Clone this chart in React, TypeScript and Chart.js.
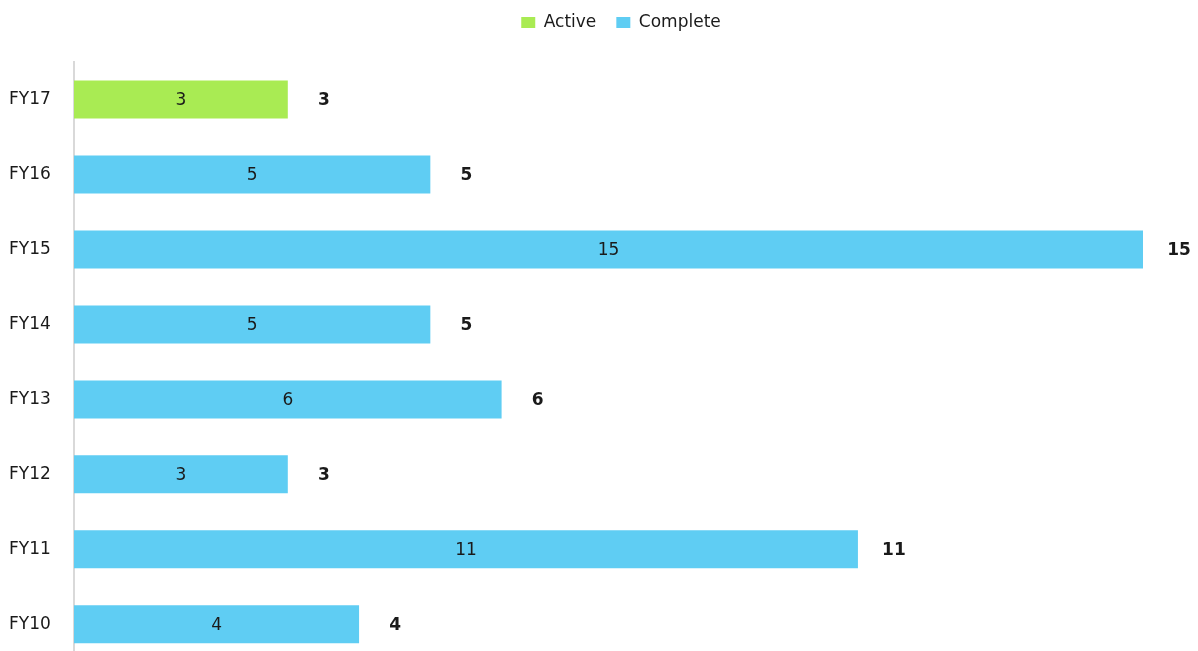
import React, { useEffect, useRef } from "react";
import { Chart, registerables } from "chart.js";

Chart.register(...registerables);

const categories = ["FY17", "FY16", "FY15", "FY14", "FY13", "FY12", "FY11", "FY10"];
const activeValues = [3, null, null, null, null, null, null, null];
const completeValues = [null, 5, 15, 5, 6, 3, 11, 4];
const seriesNames = ["Active", "Complete"];
const xMax = 15;

const FONT = "'DejaVu Sans', Verdana, sans-serif";
const TEXT = "#1a1a1a";

const labelPlugin = {
  id: "barLabels",
  afterDatasetsDraw(chart: any) {
    const ctx = chart.ctx;
    ctx.save();
    ctx.textBaseline = "middle";
    ctx.textAlign = "center";
    ctx.fillStyle = TEXT;
    const ends: Record<number, { x: number; y: number; total: number }> = {};
    chart.data.datasets.forEach((ds: any, di: number) => {
      const meta = chart.getDatasetMeta(di);
      if (meta.hidden) return;
      meta.data.forEach((bar: any, i: number) => {
        const v = ds.data[i];
        if (v == null || v === 0) return;
        ctx.font = `17px ${FONT}`;
        const cx = (bar.x + bar.base) / 2;
        ctx.fillText(String(v), cx, bar.y + 1);
        const prev = ends[i];
        ends[i] = {
          x: prev ? Math.max(prev.x, bar.x) : bar.x,
          y: bar.y,
          total: (prev ? prev.total : 0) + v,
        };
      });
    });
    ctx.font = `bold 17px ${FONT}`;
    Object.values(ends).forEach((e) => {
      ctx.fillText(String(e.total), e.x + 36, e.y + 1);
    });
    ctx.restore();
  },
};

const legendTweak = {
  id: "legendTweak",
  beforeLayout(chart: any) {
    const lg = chart.legend;
    if (lg && !lg.__patched) {
      const orig = lg.fit;
      lg.fit = function (this: any) {
        orig.call(this);
        this.height += 21;
      };
      lg.__patched = true;
    }
  },
  afterLayout(chart: any) {
    const lg = chart.legend;
    if (lg) {
      lg.left += 45;
      lg.right += 45;
    }
  },
};

export default function App() {
  const ref = useRef<HTMLCanvasElement | null>(null);
  useEffect(() => {
    if (!ref.current) return;
    const chart = new Chart(ref.current, {
      type: "bar",
      data: {
        labels: categories,
        datasets: [
          {
            label: seriesNames[0],
            data: activeValues as any,
            backgroundColor: "#a9eb53",
            barPercentage: 0.507,
            categoryPercentage: 1,
          },
          {
            label: seriesNames[1],
            data: completeValues as any,
            backgroundColor: "#5fcdf3",
            barPercentage: 0.507,
            categoryPercentage: 1,
          },
        ],
      },
      options: {
        indexAxis: "y",
        animation: false,
        responsive: true,
        maintainAspectRatio: false,
        layout: { padding: { left: 9, right: 55, top: -6, bottom: 0 } },
        plugins: {
          legend: {
            position: "top",
            labels: {
              boxWidth: 14,
              boxHeight: 11,
              padding: 20,
              color: TEXT,
              font: { family: FONT, size: 17 },
            },
          },
          tooltip: { enabled: false },
        },
        scales: {
          x: {
            stacked: true,
            display: false,
            min: 0,
            max: xMax,
          },
          y: {
            stacked: true,
            afterFit: (s: any) => {
              s.width = 65;
            },
            grid: { display: false },
            border: { display: true, color: "#d9d9d9", width: 2 },
            ticks: {
              crossAlign: "far",
              color: TEXT,
              font: { family: FONT, size: 17 },
            },
          },
        },
      },
      plugins: [legendTweak, labelPlugin],
    });
    return () => chart.destroy();
  }, []);
  return (
    <div style={{ position: "absolute", left: 0, top: 0, width: 1198, height: 651, overflow: "hidden", background: "#fff" }}>
      <div style={{ position: "relative", width: 1198, height: 675 }}>
        <canvas ref={ref} />
      </div>
    </div>
  );
}
